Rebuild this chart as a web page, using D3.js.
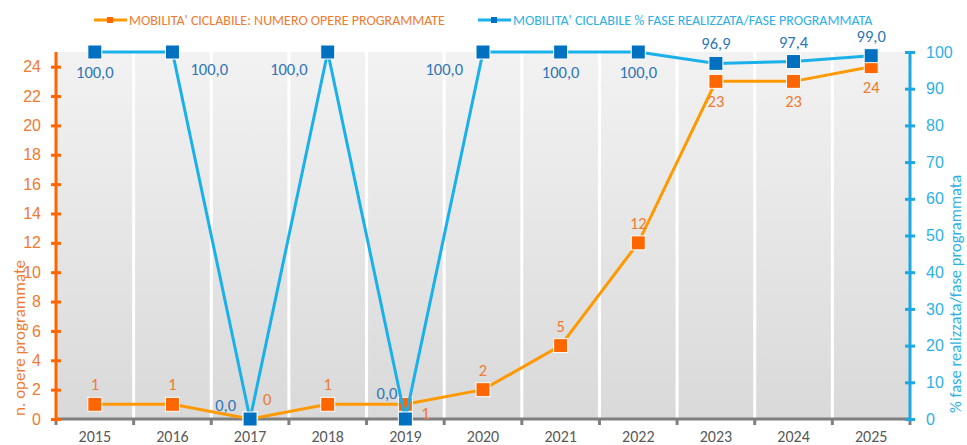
<!DOCTYPE html>
<html>
<head>
<meta charset="utf-8">
<script src="https://cdn.jsdelivr.net/npm/d3@7"></script>
<style>
  body { margin: 0; background: #fff; }
  svg { font-family: Calibri, Carlito, "Open Sans", Lato, sans-serif; }
</style>
</head>
<body>
<div id="chart"></div>
<script>
// data
const years = ['2015', '2016', '2017', '2018', '2019', '2020', '2021', '2022', '2023', '2024', '2025'];
const opere = [1, 1, 0, 1, 1, 2, 5, 12, 23, 23, 24];
const perc = [100, 100, 0, 100, 0, 100, 100, 100, 96.9, 97.4, 99.0];
const leftTicks = [0, 2, 4, 6, 8, 10, 12, 14, 16, 18, 20, 22, 24];
const rightTicks = [0, 10, 20, 30, 40, 50, 60, 70, 80, 90, 100];
const seriesNames = ["MOBILITA' CICLABILE: NUMERO OPERE PROGRAMMATE", "MOBILITA' CICLABILE % FASE REALIZZATA/FASE PROGRAMMATA"];
// where each data label sits relative to its point
const opereLabelPos = ['t', 't', 'r', 't', 'br', 't', 't', 't', 'b', 'b', 'b'];
const percLabelPos = ['b', 'r', 'tl', 'l', 'tl2', 'l', 'b', 'b', 't', 't', 't'];

const width = 967, height = 445;
const margin = { top: 52, right: 57, bottom: 26, left: 56 };
const innerW = width - margin.left - margin.right;
const innerH = height - margin.top - margin.bottom;

const orangeAxis = '#ff6600', orangeText = '#f07a30', orangeLine = '#ff9900', orangeMark = '#ff6600';
const blueAxis = '#1ba8e4', blueText = '#2db0e6', blueLine = '#1ab0ea', blueMark = '#0070c0', blueLabel = '#2e75b6';

const svg = d3.select('#chart').append('svg')
    .attr('width', width)
    .attr('height', height);

const defs = svg.append('defs');
const grad = defs.append('linearGradient')
    .attr('id', 'bg').attr('x1', 0).attr('y1', 0).attr('x2', 0).attr('y2', 1);
grad.append('stop').attr('offset', '0%').attr('stop-color', '#f2f2f2');
grad.append('stop').attr('offset', '100%').attr('stop-color', '#d9d9d9');

const g = svg.append('g')
    .attr('transform', 'translate(' + margin.left + ',' + margin.top + ')');

const x = d3.scaleBand().domain(years).range([0, innerW]);
const yL = d3.scaleLinear().domain([0, 25]).range([innerH, 0]);
const yR = d3.scaleLinear().domain([0, 100]).range([innerH, 0]);
const cx = d => x(d) + x.bandwidth() / 2;

// background bands
g.selectAll('rect.band')
    .data(years)
    .enter().append('rect')
    .attr('class', 'band')
    .attr('x', d => x(d))
    .attr('y', 0)
    .attr('width', x.bandwidth())
    .attr('height', innerH)
    .attr('fill', 'url(#bg)');

// vertical white gridlines
g.selectAll('line.grid')
    .data(years.slice(1))
    .enter().append('line')
    .attr('x1', d => x(d)).attr('x2', d => x(d))
    .attr('y1', 0).attr('y2', innerH)
    .attr('stroke', '#fff').attr('stroke-width', 3);

// x axis
const xAxis = g.append('g')
    .attr('transform', 'translate(0,' + innerH + ')');
xAxis.append('line')
    .attr('x1', 0).attr('x2', innerW)
    .attr('stroke', '#7f7f7f').attr('stroke-width', 3);
xAxis.selectAll('line.tick')
    .data(d3.range(years.length + 1))
    .enter().append('line')
    .attr('x1', i => i * x.step()).attr('x2', i => i * x.step())
    .attr('y1', 0).attr('y2', 6)
    .attr('stroke', '#7f7f7f').attr('stroke-width', 3);
xAxis.selectAll('text')
    .data(years)
    .enter().append('text')
    .attr('x', d => cx(d))
    .attr('y', 23)
    .attr('text-anchor', 'middle')
    .attr('fill', '#595959')
    .attr('font-size', 16)
    .text(d => d);

// left axis
const leftAxis = g.append('g')
    .call(d3.axisLeft(yL).tickValues(leftTicks).tickSize(0).tickPadding(15));
leftAxis.select('.domain').remove();
leftAxis.selectAll('text').attr('fill', orangeText).attr('font-size', 16).attr('font-family', null);
leftAxis.append('line')
    .attr('y1', 0).attr('y2', innerH)
    .attr('stroke', orangeAxis).attr('stroke-width', 3);
leftAxis.selectAll('.tick').append('line')
    .attr('x1', -5).attr('x2', 5)
    .attr('stroke', orangeAxis).attr('stroke-width', 3);

// right axis
const rightAxis = g.append('g')
    .attr('transform', 'translate(' + innerW + ',0)')
    .call(d3.axisRight(yR).tickValues(rightTicks).tickSize(0).tickPadding(16));
rightAxis.select('.domain').remove();
rightAxis.selectAll('text').attr('fill', blueText).attr('font-size', 16).attr('font-family', null);
rightAxis.append('line')
    .attr('y1', 0).attr('y2', innerH)
    .attr('stroke', blueAxis).attr('stroke-width', 3);
rightAxis.selectAll('.tick').append('line')
    .attr('x1', -5).attr('x2', 5)
    .attr('stroke', blueAxis).attr('stroke-width', 3);

// axis titles
svg.append('text')
    .attr('transform', 'translate(25,338) rotate(-90)')
    .attr('text-anchor', 'middle')
    .attr('fill', orangeText)
    .attr('font-size', 17)
    .text('n. opere programmate');
svg.append('text')
    .attr('transform', 'translate(961,294) rotate(-90)')
    .attr('text-anchor', 'middle')
    .attr('fill', blueText)
    .attr('font-size', 16.5)
    .text('% fase realizzata/fase programmata');

const opereOffsets = {
    t: [0, -14, 'middle'], b: [0, 26, 'middle'], r: [13, -14, 'start'],
    br: [16, 15, 'start']
};
const percOffsets = {
    t: [0, -14, 'middle'], b: [0, 26, 'middle'], r: [18, 23, 'start'],
    l: [-20, 23, 'end'], tl: [-14, -8, 'end'], tl2: [-8, -20, 'end']
};

// orange series
g.append('path')
    .datum(opere)
    .attr('fill', 'none')
    .attr('stroke', orangeLine)
    .attr('stroke-width', 3)
    .attr('d', d3.line().x((d, i) => cx(years[i])).y(d => yL(d)));
g.selectAll('rect.om')
    .data(opere)
    .enter().append('rect')
    .attr('x', (d, i) => cx(years[i]) - 7)
    .attr('y', d => yL(d) - 7)
    .attr('width', 14).attr('height', 14)
    .attr('fill', orangeMark).attr('stroke', '#fff').attr('stroke-width', 1);

// blue series
g.append('path')
    .datum(perc)
    .attr('fill', 'none')
    .attr('stroke', blueLine)
    .attr('stroke-width', 3)
    .attr('d', d3.line().x((d, i) => cx(years[i])).y(d => yR(d)));
g.selectAll('rect.bm')
    .data(perc)
    .enter().append('rect')
    .attr('x', (d, i) => cx(years[i]) - 7)
    .attr('y', d => yR(d) - 7)
    .attr('width', 14).attr('height', 14)
    .attr('fill', blueMark).attr('stroke', '#fff').attr('stroke-width', 1);

// data labels
g.selectAll('text.ol')
    .data(opere)
    .enter().append('text')
    .attr('x', (d, i) => cx(years[i]) + opereOffsets[opereLabelPos[i]][0])
    .attr('y', (d, i) => yL(d) + opereOffsets[opereLabelPos[i]][1])
    .attr('text-anchor', (d, i) => opereOffsets[opereLabelPos[i]][2])
    .attr('fill', orangeText)
    .attr('font-size', 16.5)
    .text(d => d);
g.selectAll('text.pl')
    .data(perc)
    .enter().append('text')
    .attr('x', (d, i) => cx(years[i]) + percOffsets[percLabelPos[i]][0])
    .attr('y', (d, i) => yR(d) + percOffsets[percLabelPos[i]][1])
    .attr('text-anchor', (d, i) => percOffsets[percLabelPos[i]][2])
    .attr('fill', blueLabel)
    .attr('font-size', 16.5)
    .text(d => d3.format('.1f')(d).replace('.', ','));

// legend
const legend = svg.append('g').attr('transform', 'translate(0,20)');
const legItems = [
    { x: 94, line: orangeLine, mark: orangeMark, text: orangeText, name: seriesNames[0] },
    { x: 478, line: blueLine, mark: blueMark, text: blueText, name: seriesNames[1] }
];
legItems.forEach(it => {
    legend.append('line')
        .attr('x1', it.x).attr('x2', it.x + 33)
        .attr('stroke', it.line).attr('stroke-width', 3);
    legend.append('rect')
        .attr('x', it.x + 13).attr('y', -3)
        .attr('width', 6).attr('height', 6)
        .attr('fill', it.mark);
    legend.append('text')
        .attr('x', it.x + 35).attr('y', 5)
        .attr('fill', it.text)
        .attr('font-size', 14)
        .text(it.name);
});
</script>
</body>
</html>
